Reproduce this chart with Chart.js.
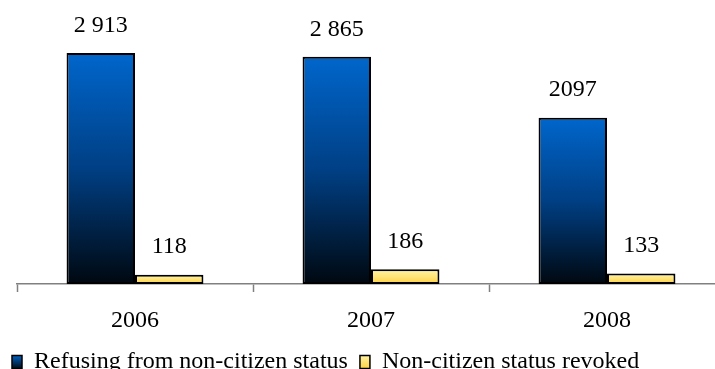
<!DOCTYPE html>
<html>
<head>
<meta charset="utf-8">
<script src="https://cdn.jsdelivr.net/npm/chart.js@4"></script>
<style>
  html, body { margin: 0; padding: 0; background: #fff; overflow: hidden; }
  #wrap { position: relative; width: 725px; height: 384px; }
</style>
</head>
<body>
<div id="wrap"><canvas id="statusChart"></canvas></div>
<script>
// Datos
const years = ['2006', '2007', '2008'];
const refusing = [2913, 2865, 2097];
const revoked = [118, 186, 133];
const refusingLabels = ['2 913', '2 865', '2097'];
const revokedLabels = ['118', '186', '133'];

const serif = 'Liberation Serif, Times New Roman, serif';

// gradiente vertical para cada barra, desde su valor hasta cero
function barGradient(context, stops) {
    const chart = context.chart;
    const y = chart.scales.y;
    if (!y || context.dataIndex === undefined) return stops[0];
    const value = context.dataset.data[context.dataIndex];
    const y0 = y.getPixelForValue(value);
    const y1 = y.getPixelForValue(0);
    if (!isFinite(y0) || !isFinite(y1) || y0 === y1) return stops[0];
    const g = chart.ctx.createLinearGradient(0, y0, 0, y1);
    g.addColorStop(0, stops[0]);
    g.addColorStop(0.5, stops[1]);
    g.addColorStop(1, stops[2]);
    return g;
}

const blueStops = ['#0066cc', '#003f84', '#000810'];
const yellowStops = ['#fff4a6', '#ffe479', '#ffd03e'];

// etiquetas de valor encima de las barras
const valueLabels = {
    id: 'valueLabels',
    afterDatasetsDraw(chart) {
        const ctx = chart.ctx;
        const texts = [refusingLabels, revokedLabels];
        ctx.save();
        ctx.font = '24px ' + serif;
        ctx.fillStyle = '#000';
        ctx.textAlign = 'center';
        ctx.textBaseline = 'middle';
        chart.data.datasets.forEach((ds, i) => {
            chart.getDatasetMeta(i).data.forEach((bar, j) => {
                ctx.fillText(texts[i][j], bar.x, bar.y - 27.5);
            });
        });
        ctx.restore();
    }
};

const ctx = document.getElementById('statusChart').getContext('2d');
const statusChart = new Chart(ctx, {
    type: 'bar',
    data: {
        labels: years,
        datasets: [{
            label: 'Refusing from non-citizen status',
            data: refusing,
            backgroundColor: c => barGradient(c, blueStops),
            borderColor: '#000',
            borderWidth: 2,
            borderSkipped: false
        }, {
            label: 'Non-citizen status revoked',
            data: revoked,
            backgroundColor: c => barGradient(c, yellowStops),
            borderColor: '#000',
            borderWidth: 2,
            borderSkipped: false
        }]
    },
    options: {
        responsive: true,
        maintainAspectRatio: false,
        animation: false,
        devicePixelRatio: 1,
        layout: { padding: 0 },
        datasets: {
            bar: { barPercentage: 1, categoryPercentage: 0.58 }
        },
        scales: {
            x: {
                grid: {
                    display: true,
                    drawOnChartArea: false,
                    tickLength: 8,
                    tickWidth: 1.5,
                    tickColor: '#808080'
                },
                border: { display: true, color: '#808080', width: 1.5 },
                ticks: {
                    color: '#000',
                    padding: 14,
                    font: { family: serif, size: 24, lineHeight: 1.2 }
                },
                afterFit: s => { s.height = 54; }
            },
            y: {
                min: 0,
                max: 3581,
                grid: { display: false },
                border: { display: false },
                ticks: { display: false },
                afterFit: s => { s.width = 17; }
            }
        },
        plugins: {
            tooltip: { enabled: false },
            legend: {
                position: 'bottom',
                align: 'start',
                labels: {
                    color: '#000',
                    boxWidth: 10,
                    boxHeight: 13,
                    padding: 12,
                    font: { family: serif, size: 24 },
                    generateLabels(chart) {
                        const c = chart.ctx;
                        const stops = [blueStops, yellowStops];
                        return chart.data.datasets.map((ds, i) => {
                            const g = c.createLinearGradient(0, 355, 0, 369);
                            g.addColorStop(0, stops[i][0]);
                            g.addColorStop(1, stops[i][2]);
                            return {
                                text: ds.label,
                                fillStyle: g,
                                strokeStyle: '#000',
                                lineWidth: 1.5,
                                fontColor: '#000',
                                datasetIndex: i,
                                hidden: false
                            };
                        });
                    }
                }
            }
        }
    },
    plugins: [valueLabels]
});
</script>
</body>
</html>
